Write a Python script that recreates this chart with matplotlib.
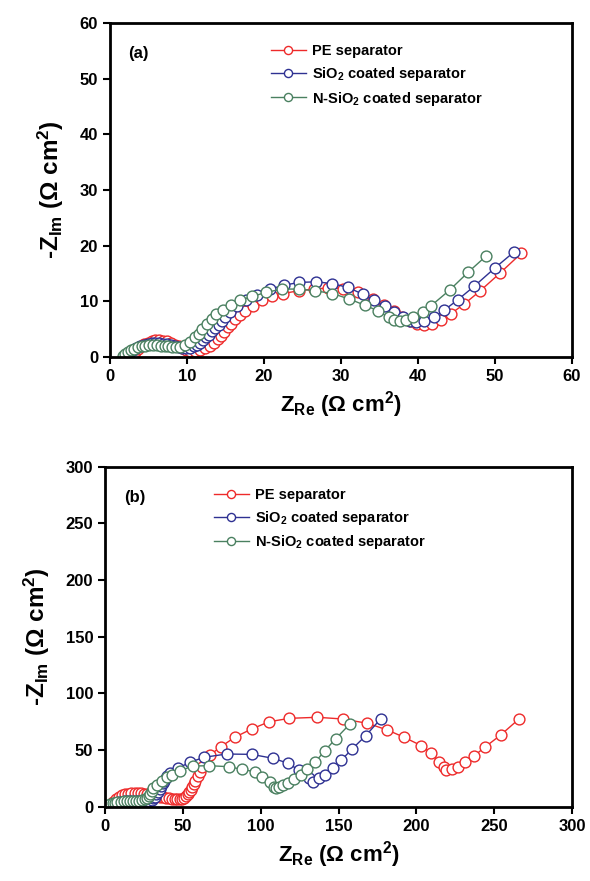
import matplotlib
matplotlib.use('Agg')
import matplotlib.pyplot as plt

plt.rcParams['font.family'] = ['Liberation Sans', 'DejaVu Sans']
plt.rcParams['font.weight'] = 'bold'
plt.rcParams['mathtext.fontset'] = 'custom'
plt.rcParams['mathtext.rm'] = 'Liberation Sans:bold'
plt.rcParams['mathtext.bf'] = 'Liberation Sans:bold'
plt.rcParams['mathtext.default'] = 'rm'

labels = ['PE separator', 'SiO$_2$ coated separator', 'N-SiO$_2$ coated separator']
colors = ['#EE2A2A', '#2E3192', '#4A8060']

# panel (a) data
pe_a_x = [2.8, 3.0, 3.3, 3.6, 4.0, 4.4, 4.9, 5.4, 5.9, 6.4, 6.9, 7.4, 7.9, 8.4, 8.9, 9.4, 9.9,
          10.4, 11.0, 11.7, 12.3, 13.0, 13.5, 14.0, 14.4, 14.8, 15.3, 15.7, 16.2, 16.9, 17.6,
          18.6, 19.8, 21.1, 22.5, 24.5, 26.5, 28.3, 30.3, 32.2, 34.1, 35.6, 36.9, 37.9, 39.0,
          39.9, 40.8, 41.8, 43.0, 44.3, 46.0, 48.1, 50.6, 53.4]
pe_a_y = [0.1, 0.5, 0.9, 1.4, 1.9, 2.3, 2.6, 2.8, 3.0, 3.0, 2.9, 2.8, 2.5, 2.2, 1.9, 1.6, 1.3,
          1.1, 1.0, 1.3, 1.6, 2.0, 2.6, 3.2, 3.8, 4.5, 5.3, 6.0, 6.8, 7.5, 8.3,
          9.2, 10.2, 10.9, 11.4, 11.9, 12.2, 12.4, 12.3, 11.6, 10.5, 9.3, 8.3, 7.2, 6.5,
          5.9, 5.7, 5.9, 6.6, 7.8, 9.5, 11.9, 15.0, 18.6]

si_a_x = [2.0, 2.3, 2.6, 3.0, 3.4, 3.9, 4.4, 4.9, 5.4, 5.9, 6.4, 6.9, 7.4, 7.9, 8.4, 8.9, 9.4,
          9.9, 10.4, 10.9, 11.3, 11.7, 12.1, 12.5, 12.9, 13.3, 13.7, 14.1, 14.6, 15.0, 15.6,
          16.5, 17.7, 19.1, 20.8, 22.6, 24.6, 26.8, 28.8, 30.9, 32.8, 34.3, 35.7, 36.9, 38.0,
          39.0, 39.8, 40.8, 42.1, 43.4, 45.2, 47.3, 50.0, 52.5]
si_a_y = [0.1, 0.5, 0.9, 1.3, 1.7, 2.0, 2.2, 2.4, 2.5, 2.5, 2.5, 2.4, 2.3, 2.1, 1.9, 1.8, 1.7,
          1.6, 1.7, 1.9, 2.2, 2.6, 3.0, 3.5, 4.0, 4.6, 5.2, 5.8, 6.5, 7.2, 8.1,
          9.2, 10.2, 11.2, 12.2, 12.9, 13.4, 13.5, 13.2, 12.5, 11.3, 10.2, 9.1, 8.1, 7.2,
          6.5, 6.2, 6.5, 7.2, 8.4, 10.3, 12.7, 16.0, 18.9]

n_a_x = [1.7, 2.0, 2.3, 2.7, 3.1, 3.6, 4.1, 4.6, 5.1, 5.6, 6.1, 6.6, 7.1, 7.6, 8.1, 8.6, 9.1,
         9.7, 10.4, 11.0, 11.5, 11.9, 12.6, 13.2, 13.8, 14.7, 15.7, 16.9, 18.5, 20.3, 22.3,
         24.5, 26.6, 28.9, 31.1, 33.1, 34.8, 36.2, 36.9, 37.7, 38.4, 39.4, 40.6, 41.7, 44.1,
         46.5, 48.9]
n_a_y = [0.1, 0.5, 0.9, 1.2, 1.5, 1.8, 1.9, 2.0, 2.1, 2.1, 2.1, 2.0, 1.9, 1.9, 1.8, 1.8, 1.8,
         2.1, 2.7, 3.5, 4.2, 5.1, 6.0, 6.9, 7.7, 8.5, 9.3, 10.2, 10.9, 11.6, 12.2,
         12.2, 11.9, 11.4, 10.4, 9.3, 8.3, 7.1, 6.7, 6.5, 6.7, 7.1, 8.0, 9.2, 12.0,
         15.2, 18.2]

# panel (b) data
pe_b_x = [3, 5, 7, 9, 11, 13, 15, 17, 19, 21, 23, 25, 27, 29, 31, 33, 35, 37, 39, 41, 43, 45,
          46.5, 48, 49.5, 51, 52, 53, 54, 55, 56, 57, 58, 59.5, 61, 62.1, 67.4, 74.5, 83.4,
          94.2, 105.5, 118.5, 136.5, 152.6, 168.6, 181.4, 192.1, 203.3, 209.7, 214.4, 217.6,
          219.3, 222.9, 226.8, 231.1, 237.0, 243.9, 254.2, 265.9]
pe_b_y = [1.5, 4, 6.5, 8.5, 10, 11, 11.5, 12, 12, 12, 11.8, 11.5, 11, 10.5, 10, 9.5, 9, 8.5,
          8, 7.5, 7, 6.7, 6.5, 6.5, 7, 8, 9.5, 11, 13, 15, 17.5, 20, 23, 27, 31, 35, 45.6, 53.0,
          61.3, 68.6, 75.0, 78.0, 78.9, 77.4, 73.6, 67.7, 61.3, 53.8, 47.1, 39.7, 35.3,
          32.4, 33.0, 35.3, 39.2, 44.7, 52.4, 63.3, 77.4]

si_b_x = [3, 5, 7, 9, 11, 13, 15, 17, 19, 21, 23, 25, 27, 28.5, 30, 31, 32, 33, 34, 35, 36,
          37, 38, 39, 40, 41.7, 46.6, 54.6, 63.5, 78.1, 94.2, 108.0, 117.3, 124.5, 130.9,
          133.7, 137.4, 141.6, 146.5, 151.9, 158.7, 167.5, 177.0]
si_b_y = [1, 2.5, 3.5, 4.2, 4.6, 4.8, 5, 5, 5, 4.9, 4.8, 4.7, 4.8, 5.2, 6, 7.5, 9, 11, 13,
          15.5, 18, 20.5, 23, 25.5, 27.5, 29.5, 33.9, 39.2, 43.6, 46.5, 46.2, 42.7, 38.5,
          32.4, 25.6, 22.1, 25.1, 28.0, 33.9, 41.2, 50.9, 62.7, 77.4]

n_b_x = [2, 3.5, 5, 6.5, 8, 10, 12, 14, 16, 18, 20, 22, 24, 25.5, 27, 28, 29, 30, 31, 33.2,
         36.4, 39.6, 42.8, 48.1, 56.7, 66.9, 79.8, 87.7, 96.3, 100.6, 105.9, 108.5, 109.8,
         111.7, 114.5, 117.7, 121.5, 125.6, 129.9, 135.2, 141.2, 148.1, 157.3]
n_b_y = [0.8, 2, 3, 3.7, 4.2, 4.5, 4.7, 4.8, 4.8, 4.8, 4.8, 5, 5.5, 6.5, 8, 9.5, 11.5, 13.8,
         16.2, 19.2, 22.7, 25.9, 28.0, 31.8, 35.9, 36.2, 35.3, 33.0, 30.9, 25.9, 22.1, 17.7,
         16.2, 17.7, 19.2, 21.2, 24.2, 28.0, 33.0, 39.7, 49.4, 59.8, 73.0]

fig = plt.figure(figsize=(5.9, 8.81), dpi=100)
ax1 = fig.add_axes([0.1864, 0.5948, 0.783, 0.3791])
ax2 = fig.add_axes([0.178, 0.0843, 0.7915, 0.386])

panels = [
    (ax1, [(pe_a_x, pe_a_y), (si_a_x, si_a_y), (n_a_x, n_a_y)], 60, 10, '(a)', 0.32),
    (ax2, [(pe_b_x, pe_b_y), (si_b_x, si_b_y), (n_b_x, n_b_y)], 300, 50, '(b)', 0.205),
]

for ax, series, lim, step, tag, legx in panels:
    for (x, y), lab, c in zip(series, labels, colors):
        ax.plot(x, y, '-o', color=c, lw=1.0, ms=7.8, mfc='white', mec=c, mew=1.0, label=lab)
    ax.set_xlim(0, lim)
    ax.set_ylim(0, lim)
    ax.set_xticks(range(0, lim + 1, step))
    ax.set_yticks(range(0, lim + 1, step))
    for s in ax.spines.values():
        s.set_linewidth(2.0)
    ax.tick_params(direction='out', length=5, width=1.5, labelsize=12)
    for t in ax.get_xticklabels() + ax.get_yticklabels():
        t.set_fontweight('bold')
    ax.set_xlabel('Z$_{Re}$ ($\\Omega$ cm$^2$)', fontsize=16, fontweight='bold', labelpad=4)
    ax.set_ylabel('-Z$_{Im}$ ($\\Omega$ cm$^2$)', fontsize=17.5, fontweight='bold', labelpad=10)
    ax.text(0.04, 0.895, tag, transform=ax.transAxes, fontsize=12, fontweight='bold')
    ax.legend(loc='upper left', bbox_to_anchor=(legx, 0.975), frameon=False,
              markerscale=0.75, handlelength=2.4, handletextpad=0.4, labelspacing=0.45,
              prop={'weight': 'bold', 'size': 10.5})

fig.savefig('out.png', dpi=100)
